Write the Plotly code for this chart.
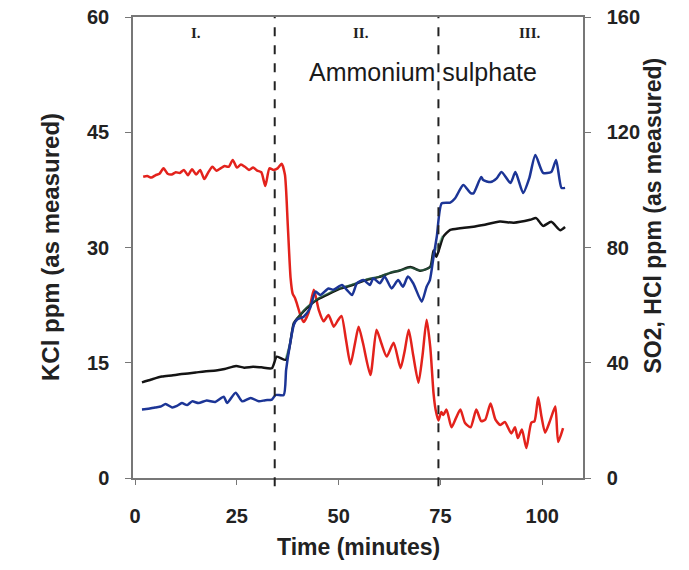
import plotly.graph_objects as go

# ---- data ----
kcl_t = [2, 3, 4, 5, 6, 7, 8, 9, 10, 11, 12, 13, 14, 15, 16, 17, 18, 19, 20, 21, 22, 23, 24, 25,
         26, 27, 28, 29, 30, 31, 32, 33, 34, 35, 36, 36.8, 37.5, 38.2, 38.7, 39.3, 39.8, 40.6,
         41.4, 42.6, 43.9, 45.1, 46.3, 47.5, 48.8, 49.8, 50.7, 51.8, 52.9, 54, 54.9, 56, 57.8,
         59.3, 60.5, 61.8, 63.5, 65.2, 66.2, 67.2, 68.3, 69.6, 70.6, 71.6, 72.5, 73.3, 73.8,
         74.5, 75.2, 75.7, 76.5, 77.7, 78.8, 79.9, 81, 82.4, 83.8, 85, 86, 87.3, 88.5, 89.7,
         90.8, 92.4, 93.3, 94, 95, 96.1, 97.3, 98.1, 99, 99.8, 100.7, 102, 103.2, 103.9, 105.1]
kcl_v = [39.2, 39.3, 39.1, 39.4, 39.6, 40.3, 39.6, 39.5, 39.8, 39.7, 40.1, 39.4, 40.2, 39.5,
         40.1, 38.9, 39.8, 40.5, 40.0, 40.3, 40.6, 40.5, 41.4, 40.4, 40.8, 40.5, 40.1, 40.4,
         40.0, 39.8, 38.0, 40.3, 40.1, 40.3, 40.9, 39.5, 33.0, 26.0, 24.0, 23.4, 22.6, 21.2,
         20.3, 21.5, 24.5, 21.9, 20.4, 21.2, 19.7, 20.5, 21.1, 18.0, 14.8, 17.5, 19.7, 17.5,
         13.4, 19.3, 17.5, 15.8, 17.6, 14.3, 16.5, 19.3, 16.0, 12.4, 16.0, 20.6, 17.0, 11.0,
         8.9, 7.5, 8.6, 8.2, 8.9, 6.6, 7.8, 8.9, 7.2, 6.6, 8.9, 7.4, 7.6, 9.7, 7.6, 6.9, 7.3,
         5.8, 6.6, 5.2, 6.3, 3.9, 7.2, 7.4, 10.5, 8.0, 5.9, 7.6, 9.3, 4.7, 6.5]

hcl_t = [1.7, 4, 6.6, 9, 11, 13, 14.9, 17, 19.9, 22, 24.8, 26.8, 29, 31, 33.6, 34.8, 37, 38,
         39, 40.5, 42.2, 44.6, 47, 50.5, 53, 56.9, 60, 62.7, 65, 67.6, 70.1, 72.5, 73.3, 74,
         75.7, 77.4, 79.8, 83.1, 85.5, 89.6, 93, 97, 98.5, 100.2, 102.2, 104.4, 105.6]
hcl_v = [33.2, 34.2, 35.2, 35.6, 36.0, 36.3, 36.6, 37.0, 37.3, 37.8, 38.9, 38.3, 38.6, 38.4,
         38.1, 42.1, 41.0, 46.0, 53.8, 56.5, 59.0, 61.8, 63.5, 65.8, 66.8, 68.8, 69.8, 71.2,
         72.0, 73.2, 71.9, 73.3, 79.0, 76.8, 83.8, 86.1, 86.7, 87.2, 87.8, 89.0, 88.6, 89.6,
         90.2, 87.5, 88.9, 86.0, 87.1]

green_t = [37, 38, 39, 40.5, 42.2, 44.6, 47, 50.5, 53, 56.9, 60, 62.7, 65, 67.6, 70.1, 72.5,
           73.3, 74, 75.5]
green_v = [41.5, 46.5, 53.5, 56.5, 59.3, 62.0, 63.8, 66.0, 67.0, 69.0, 69.9, 71.3, 72.0, 73.0,
           72.0, 73.2, 78.0, 79.5, 84.0]

so2_t = [1.7, 3.3, 4.9, 6.3, 7.5, 9.1, 10.3, 11.5, 12.8, 14, 15.6, 17.6, 19.7, 21.8, 22.6, 24.7,
         26.3, 28.4, 30.4, 32, 33.6, 34.5, 36.5, 37.1, 38, 39, 39.8, 41.4, 43, 44.3, 45.5,
         47.5, 48.7, 50.8, 52, 53.3, 54.5, 56.1, 57.7, 58.5, 60.1, 61.3, 63, 64.6, 65.8, 67,
         68.3, 70.4, 71.6, 72.4, 73.3, 74.1, 75.3, 77.4, 78.6, 80.6, 82.4, 83.1, 85, 85.5,
         87.3, 88.8, 90, 92.2, 93.4, 95.3, 96.8, 98.3, 100.2, 102.2, 103.4, 104.7, 105.6]
so2_v = [23.8, 24.0, 24.5, 24.8, 25.7, 24.5, 25.0, 26.0, 25.3, 26.6, 26.0, 26.9, 26.4, 28.2,
         26.0, 29.6, 26.6, 27.8, 26.6, 27.0, 27.2, 28.8, 28.8, 37.5, 46.0, 53.2, 55.0, 56.0,
         59.0, 64.7, 63.5, 65.8, 65.3, 67.0, 65.3, 63.5, 67.6, 68.7, 67.0, 69.3, 67.6, 69.9,
         65.8, 68.7, 66.4, 69.9, 67.6, 61.2, 66.4, 68.7, 76.8, 83.8, 95.3, 95.6, 97.1, 101.7,
         98.9, 98.8, 104.5, 103.4, 102.7, 104.0, 106.2, 102.4, 106.2, 98.9, 104.0, 112.1,
         105.9, 106.2, 110.4, 100.7, 100.7]

phase_bounds = [34.3, 74.5]
phase_labels = ["I.", "II.", "III."]
phase_label_x = [15, 55.6, 97]
x_ticks = [0, 25, 50, 75, 100]
left_ticks = [0, 15, 30, 45, 60]
right_ticks = [0, 40, 80, 120, 160]

fig = go.Figure()
fig.add_trace(go.Scatter(x=hcl_t, y=hcl_v, yaxis="y2", mode="lines",
                         line=dict(color="#141414", width=2.5, shape="spline", smoothing=0.6),
                         name="HCl"))
fig.add_trace(go.Scatter(x=green_t, y=green_v, yaxis="y2", mode="lines",
                         line=dict(color="rgba(50,140,90,0.45)", width=2, shape="spline",
                                   smoothing=0.6), name="fit"))
fig.add_trace(go.Scatter(x=so2_t, y=so2_v, yaxis="y2", mode="lines",
                         line=dict(color="#1c3596", width=2.5, shape="spline", smoothing=0.6),
                         name="SO2"))
fig.add_trace(go.Scatter(x=kcl_t, y=kcl_v, mode="lines",
                         line=dict(color="#e3221c", width=2.5, shape="spline", smoothing=0.6),
                         name="KCl"))

for xb in phase_bounds:
    fig.add_shape(type="line", xref="x", yref="paper", x0=xb, x1=xb, y0=-0.018, y1=1,
                  line=dict(color="#222", width=2, dash="dash"))

for lab, lx in zip(phase_labels, phase_label_x):
    fig.add_annotation(x=lx, y=57.9, xref="x", yref="y", text="<b>" + lab + "</b>",
                       showarrow=False, font=dict(family="Liberation Serif", size=15, color="#222"))

fig.add_annotation(x=70.8, y=52.8, xref="x", yref="y", text="Ammonium sulphate",
                   showarrow=False, font=dict(family="Liberation Sans", size=25, color="#1a1a1a"))

tick_font = dict(family="Liberation Sans", size=20, color="#222", weight="bold")
fig.add_annotation(xref="paper", yref="paper", x=0, y=0.5, xshift=-98, textangle=-90,
                   text="<b>KCl ppm (as measured)</b>", showarrow=False,
                   font=dict(family="Liberation Sans", size=24, color="#222"))
fig.add_annotation(xref="paper", yref="paper", x=1, y=0.5, xshift=84, yshift=32, textangle=-90,
                   text="<b>SO2, HCl ppm (as measured)</b>", showarrow=False,
                   font=dict(family="Liberation Sans", size=23, color="#222"))
fig.add_annotation(xref="paper", yref="paper", x=0.5, y=0, yshift=-84,
                   text="<b>Time (minutes)</b>", showarrow=False,
                   font=dict(family="Liberation Sans", size=23, color="#222"))

fig.update_layout(
    width=689, height=570,
    margin=dict(l=133, r=106, t=17, b=92, autoexpand=False),
    paper_bgcolor="white", plot_bgcolor="white",
    showlegend=False,
    xaxis=dict(range=[-0.5, 110], tickvals=x_ticks, showgrid=False, zeroline=False,
               showline=True, linecolor="#777", linewidth=1.5, mirror=True,
               ticks="outside", ticklen=5, tickcolor="#777", automargin=False,
               tickfont=tick_font, ticklabelstandoff=14),
    yaxis=dict(range=[0, 60], tickvals=left_ticks, showgrid=False, zeroline=False,
               showline=True, linecolor="#777", linewidth=1.5, automargin=False,
               ticks="outside", ticklen=6, tickcolor="#777",
               tickfont=tick_font, ticklabelstandoff=12),
    yaxis2=dict(range=[0, 160], tickvals=right_ticks, overlaying="y", side="right",
                showgrid=False, zeroline=False, automargin=False,
                showline=True, linecolor="#777", linewidth=1.5,
                ticks="outside", ticklen=6, tickcolor="#777",
                tickfont=tick_font, ticklabelstandoff=12),
)

# remove the default page margin so the figure sits at the window's top-left corner
fig.write_html("out.html", config={"displayModeBar": False},
               post_script="document.body.style.margin='0';")
